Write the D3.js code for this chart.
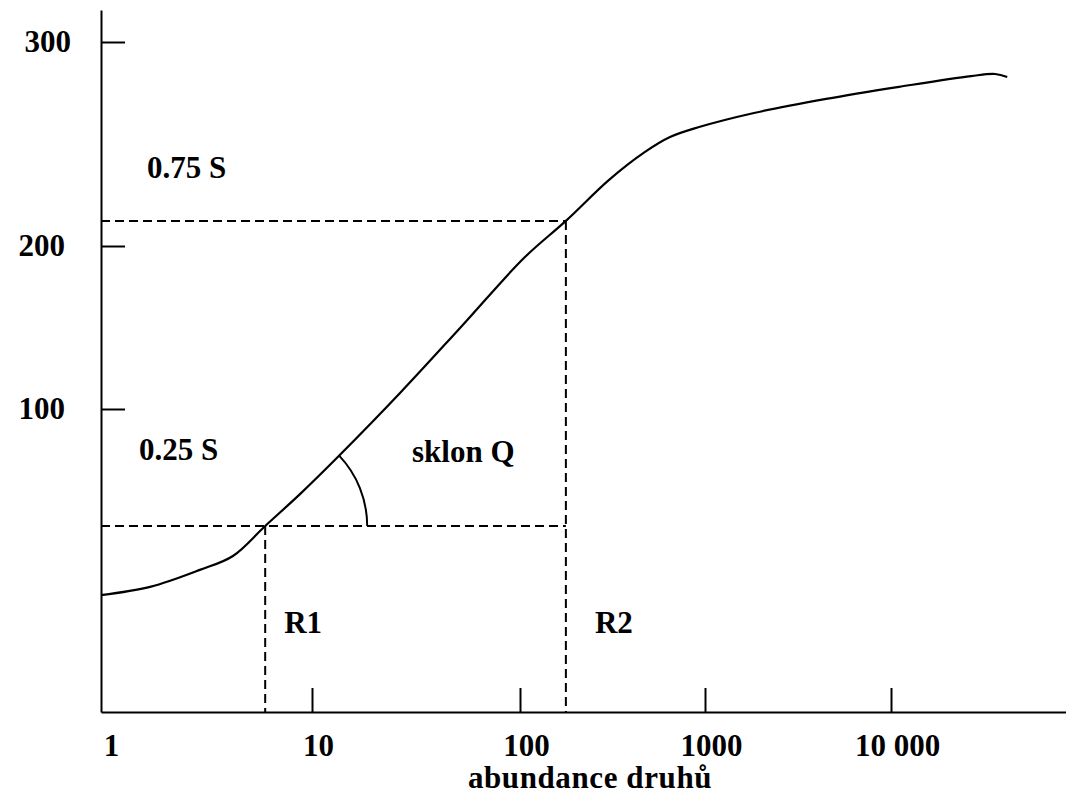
<!DOCTYPE html>
<html>
<head>
<meta charset="utf-8">
<script src="https://cdn.jsdelivr.net/npm/d3@7"></script>
<style>
  body { margin: 0; background: #fff; }
  svg text { font-family: "Liberation Serif", "Times New Roman", serif; font-weight: bold; fill: #000; }
</style>
</head>
<body>
<svg id="chart"></svg>
<script>
// species accumulation curve, abundance (log) vs. number of species
const abundance = [1, 1.71, 2.94, 4.22, 6, 8.77, 13.6, 26.5, 51.5, 105, 177, 303, 474, 647, 929, 1834, 4480, 11040, 26900, 36240, 42070];
const species   = [38.6, 41.3, 46.9, 51.5, 61.4, 71.9, 84.8, 109.8, 149.7, 192.6, 212.3, 232.4, 246.1, 253.4, 258.3, 265.2, 272.1, 278, 283.3, 284.3, 282.8];
const xTicks = [1, 10, 100, 1000, 10000];
const xTickLabels = ['1', '10', '100', '1000', '10 000'];
const yTicks = [100, 200, 300];
const quartiles = [61.4, 212.3];   // 0.25 S, 0.75 S
const quartileLabels = ['0.25 S', '0.75 S'];
const rPoints = [6, 177];          // R1, R2
const rLabels = ['R1', 'R2'];
const xTitle = 'abundance druhů';
const slopeLabel = 'sklon Q';

(function() {
  const W = 1066, H = 800, fs = 31;
  const $svg = d3.select('#chart').attr('width', W).attr('height', H);

  // hand drawn axes, so the scales are piecewise
  const xScale = d3.scaleLog()
      .domain([1, 10, 100, 1000, 10000, 87000])
      .range([101, 312, 520, 705, 891, 1066]),
    yScale = d3.scaleLinear()
      .domain([0, 100, 200, 300, 316])
      .range([712, 409, 246, 42, 10]);

  const xAxis = $svg.append('g')
    .attr('transform', 'translate(0,' + yScale(0) + ')')
    .call(d3.axisBottom(xScale)
      .tickValues(xTicks)
      .tickFormat((d, i) => xTickLabels[i])
      .tickSizeInner(-24)
      .tickSizeOuter(0)
      .tickPadding(22));
  xAxis.selectAll('.tick').filter((d) => d == 1).select('line').remove();
  xAxis.selectAll('text').attr('font-size', fs).attr('dx', (d) => d == 1 ? 10 : 6);

  const yAxis = $svg.append('g')
    .attr('transform', 'translate(' + xScale(1) + ',0)')
    .call(d3.axisLeft(yScale)
      .tickValues(yTicks)
      .tickSizeInner(-24)
      .tickSizeOuter(0)
      .tickPadding(36));
  yAxis.selectAll('text').attr('font-size', fs);
  yAxis.selectAll('.tick').filter((d) => d == 300).select('text').attr('dx', 6);

  $svg.selectAll('.domain, .tick line').attr('stroke', '#000').attr('stroke-width', 2);

  $svg.append('text')
    .text(xTitle)
    .attr('x', 590)
    .attr('y', 788)
    .attr('text-anchor', 'middle')
    .attr('letter-spacing', 0.6)
    .attr('font-size', fs);

  // dashed guides
  const guides = [
    [[xScale(1), yScale(quartiles[0])], [xScale(rPoints[1]), yScale(quartiles[0])]],
    [[xScale(1), yScale(quartiles[1])], [xScale(rPoints[1]), yScale(quartiles[1])]],
    [[xScale(rPoints[0]), yScale(quartiles[0])], [xScale(rPoints[0]), yScale(0)]],
    [[xScale(rPoints[1]), yScale(quartiles[1])], [xScale(rPoints[1]), yScale(0)]]
  ];
  $svg.selectAll('.guide')
    .data(guides)
    .enter()
    .append('line')
    .attr('class', 'guide')
    .attr('x1', (d) => d[0][0])
    .attr('y1', (d) => d[0][1])
    .attr('x2', (d) => d[1][0])
    .attr('y2', (d) => d[1][1])
    .attr('stroke', '#000')
    .attr('stroke-width', 2)
    .attr('stroke-dasharray', '9,5');

  const curveData = abundance.map((a, i) => [a, species[i]]);
  $svg.append('path')
    .datum(curveData)
    .attr('fill', 'none')
    .attr('stroke', '#000')
    .attr('stroke-width', 2.2)
    .attr('d', d3.line()
      .x((d) => xScale(d[0]))
      .y((d) => yScale(d[1]))
      .curve(d3.curveCatmullRom.alpha(0.5)));

  // angle arc for slope Q
  const i0 = abundance.indexOf(rPoints[0]),
    cx = xScale(rPoints[0]), cy = yScale(quartiles[0]), r = 102,
    nx = xScale(abundance[i0 + 2]), ny = yScale(species[i0 + 2]),
    ang = Math.atan2(ny - cy, nx - cx),
    arcPath = d3.path();
  arcPath.arc(cx, cy, r, ang, 0);
  $svg.append('path')
    .attr('d', arcPath.toString())
    .attr('fill', 'none')
    .attr('stroke', '#000')
    .attr('stroke-width', 2);

  // annotations
  $svg.append('text').text(quartileLabels[1])
    .attr('x', 147).attr('y', yScale(quartiles[1]) - 43).attr('font-size', fs);
  $svg.append('text').text(quartileLabels[0])
    .attr('x', 139).attr('y', yScale(quartiles[0]) - 66).attr('font-size', fs);
  $svg.append('text').text(slopeLabel)
    .attr('x', 412).attr('y', 462).attr('font-size', fs);
  $svg.append('text').text(rLabels[0])
    .attr('x', xScale(rPoints[0]) + 19).attr('y', 633).attr('font-size', fs);
  $svg.append('text').text(rLabels[1])
    .attr('x', xScale(rPoints[1]) + 29).attr('y', 633).attr('font-size', fs);
})();
</script>
</body>
</html>
